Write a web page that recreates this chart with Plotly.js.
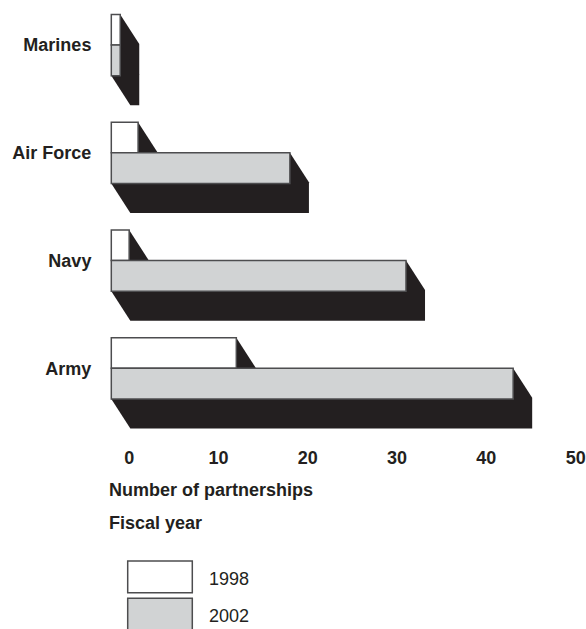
<!DOCTYPE html>
<html><head><meta charset="utf-8">
<script src="https://cdn.plot.ly/plotly-3.0.1.min.js"></script>
<style>html,body{margin:0;padding:0;background:#fff}</style>
</head><body>
<div id="chart" style="width:586px;height:629px"></div>
<script>
// ---- data ----
const categories = ["Marines", "Air Force", "Navy", "Army"];
const seriesNames = ["1998", "2002"];
const values1998 = [1, 3, 2, 14];
const values2002 = [1, 20, 33, 45];
const tickValues = [0, 10, 20, 30, 40, 50];
const axisTitle = "Number of partnerships";
const legendTitle = "Fiscal year";

// ---- layout constants ----
const W = 586, H = 629;
const M = {l: 108, r: 4, t: 2, b: 196};
const PXU = 8.93;                       // px per unit (x)
const X0 = -0.37;
const XMAX = X0 + (W - M.l - M.r) / PXU;
const BAR = 0.285;                      // bar thickness (category units)
const DX = 2.13, DY = 0.274;            // extrusion depth
const TICK_SHIFT = 2.0;                 // tick labels sit on the back plane
const SHADOW = '#231f20', GRAY = '#d1d3d4', EDGE = '#4d4d4f', TXT = '#231f20';
const FONT = 'Liberation Sans, Arial, Helvetica, sans-serif';

const yPos = categories.map((c, i) => i);
const series = [
  {name: seriesNames[0], values: values1998, offset: -BAR, fill: '#ffffff'},
  {name: seriesNames[1], values: values2002, offset: 0, fill: GRAY}
];

const pw = W - M.l - M.r, ph = H - M.t - M.b;
const pxX = px => (px - M.l) / pw;
const pxY = py => (H - M.b - py) / ph;

// ---- extrusion shadows, built from the data in data coordinates ----
const shapes = [];
series.forEach(s => {
  s.values.forEach((v, i) => {
    const yt = yPos[i] + s.offset, yb = yt + BAR;
    shapes.push({
      type: 'path', xref: 'x', yref: 'y', layer: 'below',
      path: `M 0,${yt} L ${v},${yt} L ${v + DX},${yt + DY} L ${v + DX},${yb + DY} L ${DX},${yb + DY} L 0,${yb} Z`,
      fillcolor: SHADOW, line: {width: 0}
    });
  });
});

// ---- legend (custom) ----
const legendBoxes = [[561, 592.7], [598.3, 632]];
const legendLabelY = [579, 616];
series.forEach((s, k) => {
  shapes.push({
    type: 'rect', xref: 'paper', yref: 'paper',
    x0: pxX(127.7), x1: pxX(192.3), y0: pxY(legendBoxes[k][0]), y1: pxY(legendBoxes[k][1]),
    fillcolor: s.fill, line: {color: EDGE, width: 1.5}
  });
});

const annotations = [
  {text: axisTitle, x: pxX(107), y: pxY(490), xanchor: 'left', yanchor: 'middle',
   font: {family: FONT, size: 18, color: TXT, weight: 700}},
  {text: legendTitle, x: pxX(107), y: pxY(523), xanchor: 'left', yanchor: 'middle',
   font: {family: FONT, size: 18, color: TXT, weight: 700}}
];
series.forEach((s, k) => {
  annotations.push({text: s.name, x: pxX(207), y: pxY(legendLabelY[k]), xanchor: 'left', yanchor: 'middle',
    font: {family: FONT, size: 18, color: TXT}});
});
annotations.forEach(a => { a.xref = 'paper'; a.yref = 'paper'; a.showarrow = false; });

// ---- bars ----
const traces = series.map(s => ({
  type: 'bar', orientation: 'h', name: s.name,
  x: s.values, y: yPos, offset: s.offset, width: BAR,
  marker: {color: s.fill, line: {color: EDGE, width: 1.5}},
  showlegend: false, hoverinfo: 'skip'
}));

const layout = {
  width: W, height: H, margin: M,
  paper_bgcolor: '#fff', plot_bgcolor: 'rgba(0,0,0,0)',
  barmode: 'overlay', showlegend: false,
  xaxis: {
    range: [X0, XMAX], showgrid: false, zeroline: false, showline: false,
    tickvals: tickValues.map(v => v + TICK_SHIFT), ticktext: tickValues.map(String),
    ticks: 'outside', ticklen: 8, tickcolor: 'rgba(0,0,0,0)',
    tickfont: {family: FONT, size: 18, color: TXT, weight: 700}, fixedrange: true
  },
  yaxis: {
    range: [3.6, -0.4], showgrid: false, zeroline: false, showline: false,
    tickvals: yPos, ticktext: categories,
    ticks: 'outside', ticklen: 12, tickcolor: 'rgba(0,0,0,0)',
    tickfont: {family: FONT, size: 18, color: TXT, weight: 700}, fixedrange: true
  },
  shapes: shapes,
  annotations: annotations
};

Plotly.newPlot('chart', traces, layout, {displayModeBar: false, staticPlot: true});
</script>
</body></html>
